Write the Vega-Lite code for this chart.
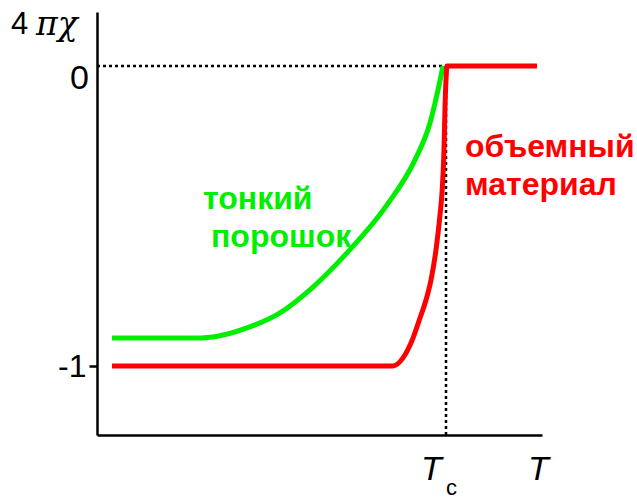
{
  "$schema": "https://vega.github.io/schema/vega-lite/v6.json",
  "width": 445,
  "height": 423,
  "autosize": {"type": "none"},
  "padding": {"left": 97, "top": 12, "right": 95, "bottom": 65},
  "background": "white",
  "config": {
    "view": {"stroke": null},
    "axis": {"grid": false, "title": null, "domainColor": "black", "domainWidth": 2.5}
  },
  "datasets": {
    "thin": [
      {"t": 15, "chi": -0.907}, {"t": 93, "chi": -0.907}, {"t": 116, "chi": -0.903},
      {"t": 150, "chi": -0.873}, {"t": 183, "chi": -0.823}, {"t": 216, "chi": -0.737},
      {"t": 250, "chi": -0.623}, {"t": 290, "chi": -0.463}, {"t": 318, "chi": -0.313},
      {"t": 333, "chi": -0.19}, {"t": 341, "chi": -0.08}, {"t": 346, "chi": 0}
    ],
    "bulk": [
      {"t": 15, "chi": -1}, {"t": 296, "chi": -1}, {"t": 306, "chi": -0.973},
      {"t": 316, "chi": -0.907}, {"t": 323, "chi": -0.84}, {"t": 329, "chi": -0.78},
      {"t": 334, "chi": -0.713}, {"t": 339, "chi": -0.613}, {"t": 343, "chi": -0.497},
      {"t": 345, "chi": -0.423}, {"t": 347, "chi": -0.28}, {"t": 348, "chi": -0.137},
      {"t": 349, "chi": -0.047}, {"t": 350, "chi": 0}, {"t": 440, "chi": 0}
    ],
    "guides": [
      {"t": 0, "t2": 349, "chi": 0, "chi2": 0},
      {"t": 349, "t2": 349, "chi": 0, "chi2": -1.23}
    ]
  },
  "layer": [
    {
      "data": {"name": "guides"},
      "mark": {"type": "rule", "color": "black", "strokeWidth": 2.5, "strokeDash": [3, 3]},
      "encoding": {
        "x": {
          "field": "t", "type": "quantitative",
          "scale": {"domain": [0, 445], "nice": false, "zero": false},
          "axis": {"values": [], "ticks": false, "labels": false}
        },
        "x2": {"field": "t2"},
        "y": {
          "field": "chi", "type": "quantitative",
          "scale": {"domain": [-1.23, 0.18], "nice": false, "zero": false},
          "axis": {
            "values": [-1],
            "labelExpr": "'-1'",
            "labelFont": "Liberation Sans",
            "labelFontSize": 32,
            "labelColor": "black",
            "labelPadding": 3,
            "tickSize": 8,
            "tickWidth": 2.5,
            "tickColor": "black"
          }
        },
        "y2": {"field": "chi2"}
      }
    },
    {
      "data": {"name": "thin"},
      "mark": {"type": "line", "color": "#00ee00", "strokeWidth": 5, "interpolate": "monotone", "strokeCap": "butt"},
      "encoding": {
        "x": {"field": "t", "type": "quantitative"},
        "y": {"field": "chi", "type": "quantitative"}
      }
    },
    {
      "data": {"name": "bulk"},
      "mark": {"type": "line", "color": "#ff0000", "strokeWidth": 5, "interpolate": "monotone", "strokeCap": "butt"},
      "encoding": {
        "x": {"field": "t", "type": "quantitative"},
        "y": {"field": "chi", "type": "quantitative"}
      }
    },
    {
      "data": {"values": [
        {"t": 106, "chi": -0.477, "text": "тонкий"},
        {"t": 114, "chi": -0.603, "text": "порошок"}
      ]},
      "mark": {"type": "text", "color": "#00ee00", "font": "Liberation Sans", "fontWeight": "bold", "fontSize": 32, "align": "left", "baseline": "alphabetic"},
      "encoding": {
        "x": {"field": "t", "type": "quantitative"},
        "y": {"field": "chi", "type": "quantitative"},
        "text": {"field": "text"}
      }
    },
    {
      "data": {"values": [
        {"t": 368, "chi": -0.303, "text": "объемный"},
        {"t": 368, "chi": -0.43, "text": "материал"}
      ]},
      "mark": {"type": "text", "color": "#ff0000", "font": "Liberation Sans", "fontWeight": "bold", "fontSize": 32, "align": "left", "baseline": "alphabetic"},
      "encoding": {
        "x": {"field": "t", "type": "quantitative"},
        "y": {"field": "chi", "type": "quantitative"},
        "text": {"field": "text"}
      }
    },
    {
      "data": {"values": [{"t": -8, "chi": -0.077, "text": "0"}]},
      "mark": {"type": "text", "color": "black", "font": "Liberation Sans", "fontSize": 34, "align": "right", "baseline": "alphabetic"},
      "encoding": {
        "x": {"field": "t", "type": "quantitative"},
        "y": {"field": "chi", "type": "quantitative"},
        "text": {"field": "text"}
      }
    },
    {
      "data": {"values": [{"t": -86, "chi": 0.107, "text": "4"}]},
      "mark": {"type": "text", "color": "black", "font": "Liberation Sans", "fontSize": 31, "align": "left", "baseline": "alphabetic"},
      "encoding": {
        "x": {"field": "t", "type": "quantitative"},
        "y": {"field": "chi", "type": "quantitative"},
        "text": {"field": "text"}
      }
    },
    {
      "data": {"values": [{"t": -61, "chi": 0.105, "text": "πχ"}]},
      "mark": {"type": "text", "color": "black", "font": "DejaVu Serif", "fontStyle": "italic", "fontSize": 33, "align": "left", "baseline": "alphabetic"},
      "encoding": {
        "x": {"field": "t", "type": "quantitative"},
        "y": {"field": "chi", "type": "quantitative"},
        "text": {"field": "text"}
      }
    },
    {
      "data": {"values": [
        {"t": 324, "chi": -1.38, "text": "T"},
        {"t": 431, "chi": -1.38, "text": "T"}
      ]},
      "mark": {"type": "text", "color": "black", "font": "Liberation Sans", "fontStyle": "italic", "fontSize": 34, "align": "left", "baseline": "alphabetic"},
      "encoding": {
        "x": {"field": "t", "type": "quantitative"},
        "y": {"field": "chi", "type": "quantitative"},
        "text": {"field": "text"}
      }
    },
    {
      "data": {"values": [{"t": 349, "chi": -1.43, "text": "c"}]},
      "mark": {"type": "text", "color": "black", "font": "Liberation Sans", "fontSize": 22, "align": "left", "baseline": "alphabetic"},
      "encoding": {
        "x": {"field": "t", "type": "quantitative"},
        "y": {"field": "chi", "type": "quantitative"},
        "text": {"field": "text"}
      }
    }
  ]
}
